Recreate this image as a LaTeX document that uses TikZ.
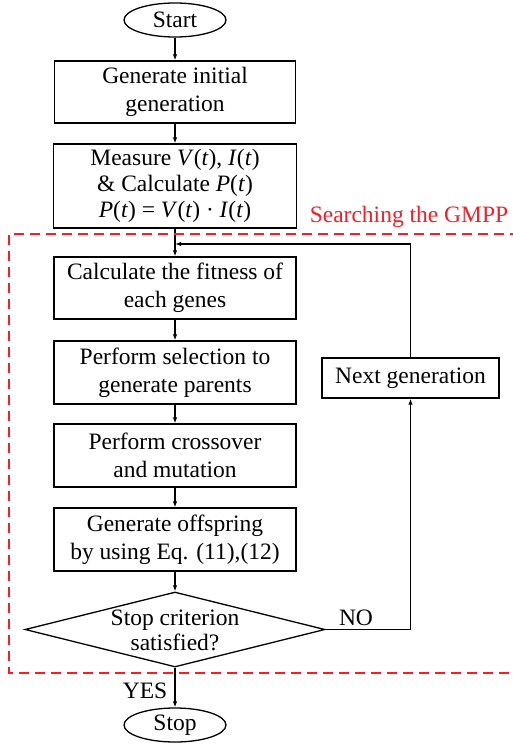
\documentclass[tikz,border=0pt]{standalone}
\usepackage{fontspec}
\setmainfont{Liberation Serif}
\usetikzlibrary{shapes.geometric,arrows.meta}
\definecolor{gred}{RGB}{238,32,40}
\begin{document}
\begin{tikzpicture}[x=1pt,y=-1pt,
  txt/.style={font=\fontsize{23.5}{28}\selectfont,align=center},
  box/.style={txt,draw,line width=1.3pt,inner sep=0pt},
  term/.style={txt,draw,ellipse,line width=1.3pt,inner sep=0pt,minimum width=102pt,minimum height=34pt},
  arr/.style={line width=1.3pt,-{Latex[length=6pt,width=4.5pt]}},
  grp/.style={draw=gred,line width=2pt,dash pattern=on 10pt off 6pt}]
\useasboundingbox (0,0) rectangle (512,745);

\node[term] (start) at (175,20) {Start};
\node[box,minimum width=241pt,minimum height=62pt] (init) at (175,92) {Generate initial\\generation};
\node[box,minimum width=243pt,minimum height=84pt] (meas) at (175,186)
  {Measure \textit{V}(\textit{t}), \textit{I}(\textit{t})\\[-2pt]
   \& Calculate \textit{P}(\textit{t})\\[-2pt]
   \textit{P}(\textit{t}) = \textit{V}(\textit{t}) · \textit{I}(\textit{t})};
\node[box,minimum width=242pt,minimum height=62pt] (fit) at (175,288) {Calculate the fitness of\\each genes};
\node[box,minimum width=242pt,minimum height=63pt] (sel) at (175,372.5) {Perform selection to\\generate parents};
\node[box,minimum width=242pt,minimum height=63pt] (cross) at (175,455.5) {Perform crossover\\and mutation};
\node[box,minimum width=242pt,minimum height=63pt] (off) at (175,539.5) {Generate offspring\\by using Eq. (11),(12)};
\node[draw,diamond,line width=1.3pt,inner sep=0pt,minimum width=300pt,minimum height=75pt] (dec) at (175,629.5) {};
\node[txt,font=\fontsize{23.5}{25}\selectfont] (dectxt) at (175,630) {Stop criterion\\satisfied?};
\node[box,minimum width=177pt,minimum height=40pt] (next) at (410.5,378) {Next generation};
\node[term] (stop) at (175,725) {Stop};

\node[txt,text=gred] (glabel) at (409,217) {Searching the GMPP};
\node[txt] (no) at (356,618) {NO};
\node[txt] (yes) at (145,691) {YES};

\coordinate (join) at (175,244);

\draw[arr] (start) -- (init);
\draw[arr] (init) -- (meas);
\draw[arr] (meas) -- (fit);
\draw[arr] (fit) -- (sel);
\draw[arr] (sel) -- (cross);
\draw[arr] (cross) -- (off);
\draw[arr] (off) -- (dec);
\draw[arr] (dec) -- (stop);
\draw[arr] (dec.east) -| (next.south);
\draw[arr] (next.north) |- (join);

\draw[grp] (520,234) -- (9,234) -- (9,673) -- (520,673);
\end{tikzpicture}
\end{document}
